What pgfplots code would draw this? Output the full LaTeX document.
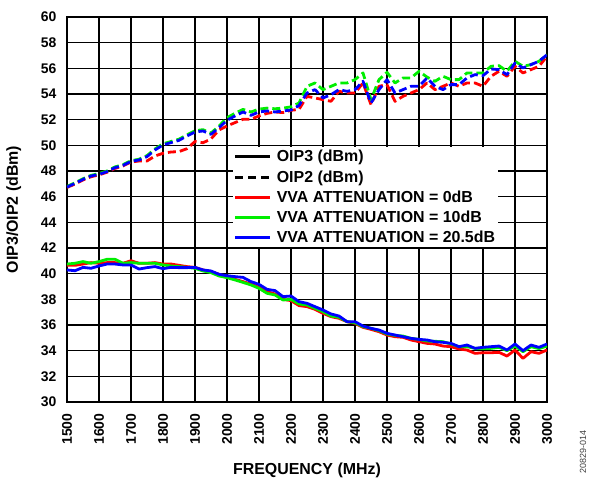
\documentclass[border=0pt]{standalone}
\usepackage{fontspec}
\setmainfont{Liberation Sans}
\usepackage{pgfplots}
\usepackage{pgfplotstable}
\pgfplotsset{compat=1.18}
\definecolor{cred}{RGB}{255,0,0}
\definecolor{cgreen}{RGB}{0,238,0}
\definecolor{cblue}{RGB}{0,0,255}
\pgfplotstableread{
f    r3    g3    b3
1500 40.65 40.75 40.29
1525 40.65 40.81 40.23
1550 40.75 40.94 40.49
1575 40.86 40.81 40.42
1600 40.81 40.94 40.60
1625 40.86 41.12 40.75
1650 40.86 41.12 40.75
1675 40.81 40.81 40.68
1700 41.01 40.86 40.68
1725 40.81 40.81 40.36
1750 40.81 40.81 40.47
1775 40.86 40.81 40.55
1800 40.75 40.68 40.39
1825 40.75 40.60 40.49
1850 40.65 40.55 40.47
1875 40.55 40.49 40.47
1900 40.49 40.42 40.49
1925 40.29 40.21 40.29
1950 40.16 40.08 40.21
1975 39.95 39.82 39.95
2000 39.77 39.69 39.84
2025 39.56 39.51 39.77
2050 39.38 39.32 39.71
2075 39.19 39.12 39.38
2100 38.94 38.86 39.17
2125 38.60 38.47 38.78
2150 38.42 38.34 38.68
2175 38.00 37.95 38.21
2200 37.90 38.00 38.26
2225 37.51 37.64 37.82
2250 37.43 37.56 37.69
2275 37.22 37.30 37.43
2300 36.91 37.04 37.17
2325 36.65 36.70 36.86
2350 36.52 36.60 36.70
2375 36.26 36.26 36.26
2400 36.13 36.18 36.26
2425 35.82 35.87 35.92
2450 35.66 35.74 35.74
2475 35.48 35.56 35.61
2500 35.22 35.30 35.35
2525 35.09 35.19 35.22
2550 35.04 35.14 35.09
2575 34.83 34.96 34.96
2600 34.70 34.88 34.88
2625 34.57 34.75 34.83
2650 34.52 34.73 34.70
2675 34.36 34.70 34.65
2700 34.31 34.52 34.57
2725 34.13 34.31 34.31
2750 34.05 34.31 34.44
2775 33.79 34.18 34.18
2800 33.84 34.18 34.26
2825 33.84 34.18 34.31
2850 33.87 34.26 34.36
2875 33.58 34.00 34.05
2900 34.05 34.36 34.52
2925 33.40 33.92 34.00
2950 33.92 34.31 34.44
2975 33.79 34.16 34.26
3000 34.05 34.36 34.52
}\oipthree
\pgfplotstableread{
f    r2    g2    b2
1500 46.72 46.80 46.75
1525 46.98 47.08 47.04
1550 47.30 47.40 47.35
1575 47.55 47.66 47.61
1600 47.70 47.80 47.74
1625 47.90 48.00 47.95
1650 48.20 48.32 48.26
1675 48.40 48.50 48.44
1700 48.70 48.80 48.75
1725 48.78 48.92 48.86
1750 48.78 49.20 49.12
1775 49.17 49.72 49.64
1800 49.38 50.12 50.03
1825 49.48 50.30 50.21
1850 49.51 50.48 50.39
1875 49.74 50.82 50.73
1900 50.30 51.14 51.04
1925 50.20 51.22 51.12
1950 50.50 50.96 50.86
1975 51.20 51.50 51.38
2000 51.51 52.15 51.95
2025 51.77 52.50 52.29
2050 52.03 52.80 52.60
2075 52.03 52.60 52.34
2100 52.29 52.82 52.60
2125 52.49 52.90 52.68
2150 52.60 52.85 52.60
2175 52.55 52.90 52.68
2200 52.73 53.00 52.75
2225 52.80 53.30 53.10
2250 53.82 54.60 54.08
2275 53.69 54.86 54.34
2300 53.56 54.34 53.69
2325 53.43 54.60 53.95
2350 54.21 54.86 54.34
2375 54.08 54.86 54.21
2400 54.08 55.12 54.34
2425 54.86 55.64 54.99
2450 53.17 53.56 53.30
2475 54.60 55.12 54.34
2500 54.73 55.69 55.12
2525 53.43 54.86 54.08
2550 53.82 55.25 54.34
2575 54.08 55.25 54.60
2600 54.34 55.77 54.60
2625 54.86 55.32 55.25
2650 54.34 54.99 54.60
2675 54.60 55.38 54.34
2700 54.86 55.12 54.73
2725 54.60 55.12 54.73
2750 54.86 55.64 55.25
2775 54.86 55.64 55.51
2800 54.60 55.64 55.43
2825 55.38 56.16 55.95
2850 55.77 56.21 55.90
2875 55.38 55.77 55.51
2900 56.16 56.55 56.42
2925 55.64 56.16 56.03
2950 55.90 56.29 56.29
2975 56.16 56.55 56.55
3000 56.94 57.06 57.06
}\oiptwo
\begin{document}
\begin{tikzpicture}
\begin{axis}[
  scale only axis, width=480bp, height=385bp,
  xmin=1500, xmax=3000, ymin=30, ymax=60,
  xtick distance=100, ytick distance=2,
  grid=major,
  major grid style={black, line width=1.2bp},
  axis line style={black, line width=1.8bp},
  tick style={draw=none},
  /pgf/number format/assume math mode=true,
  /pgf/number format/set thousands separator={},
  ticklabel style={font=\fontsize{14}{16}\selectfont\bfseries},
  yticklabel style={xshift=-7bp},
  xticklabel style={rotate=90, anchor=east, xshift=-8bp},
  xlabel={FREQUENCY (MHz)},
  ylabel={OIP3/OIP2 (dBm)},
  label style={font=\fontsize{16}{18}\selectfont\bfseries},
  xlabel style={at={(0.5,0)}, anchor=base, yshift=-72bp},
  ylabel style={at={(0,0.5)}, anchor=base, yshift=49bp},
  legend image code/.code={\draw[#1] (0bp,0bp) -- (35bp,0bp); \path (38bp,0bp);},
  legend style={at={(0.345,0.662)}, anchor=north west, draw=none, fill=white,
    font=\fontsize{16}{18}\selectfont\bfseries, inner sep=1bp,
    row sep=3.2bp},
  legend cell align=left,
  every axis plot/.append style={line width=2.8bp, line join=round},
]
\addlegendimage{black, line width=3bp}
\addlegendentry{OIP3 (dBm)}
\addlegendimage{black, line width=3bp, dash pattern=on 8bp off 5bp}
\addlegendentry{OIP2 (dBm)}
\addlegendimage{cred, line width=3bp}
\addlegendentry{VVA ATTENUATION = 0dB}
\addlegendimage{cgreen, line width=3bp}
\addlegendentry{VVA ATTENUATION = 10dB}
\addlegendimage{cblue, line width=3bp}
\addlegendentry{VVA ATTENUATION = 20.5dB}
\addplot[cred, forget plot] table[x=f, y=r3] {\oipthree};
\addplot[cgreen, forget plot] table[x=f, y=g3] {\oipthree};
\addplot[cblue, forget plot] table[x=f, y=b3] {\oipthree};
\addplot[cred, dash pattern=on 8bp off 4bp, forget plot] table[x=f, y=r2] {\oiptwo};
\addplot[cgreen, dash pattern=on 8bp off 4bp, forget plot] table[x=f, y=g2] {\oiptwo};
\addplot[cblue, dash pattern=on 8bp off 4bp, forget plot] table[x=f, y=b2] {\oiptwo};
\end{axis}
\node[rotate=90, anchor=center, font=\fontsize{9}{10}\selectfont, text=black!75] at ([xshift=36bp,yshift=-50bp]current axis.south east) {20829-014};
\path[use as bounding box] ([xshift=-67bp,yshift=-75bp]current axis.south west) rectangle ++(594bp,477bp);
\end{tikzpicture}
\end{document}
